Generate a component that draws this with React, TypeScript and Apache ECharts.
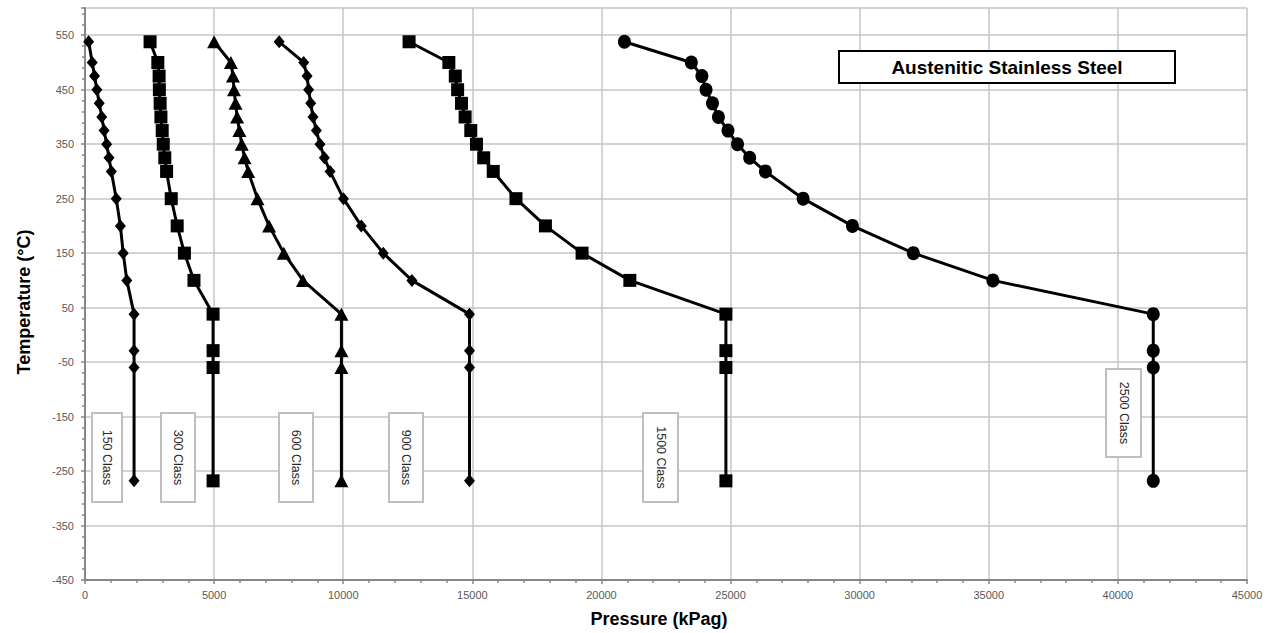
import React, { useEffect, useRef } from "react";
import * as echarts from "echarts";

const temps = [538, 500, 475, 450, 425, 400, 375, 350, 325, 300, 250, 200, 150, 100, 38, -29, -60, -268];

const class150 = [140, 280, 370, 460, 550, 650, 740, 840, 930, 1020, 1210, 1370, 1480, 1620, 1900, 1900, 1900, 1900];
const class300 = [2520, 2820, 2870, 2880, 2910, 2940, 2990, 3030, 3090, 3160, 3340, 3570, 3850, 4220, 4960, 4960, 4960, 4960];
const class600 = [5000, 5650, 5730, 5770, 5830, 5890, 5980, 6070, 6180, 6320, 6680, 7130, 7700, 8440, 9930, 9930, 9930, 9930];
const class900 = [7520, 8470, 8600, 8660, 8740, 8830, 8960, 9100, 9270, 9490, 10010, 10700, 11550, 12660, 14890, 14890, 14890, 14890];
const class1500 = [12550, 14090, 14340, 14430, 14580, 14720, 14940, 15160, 15440, 15810, 16690, 17830, 19250, 21100, 24820, 24820, 24820, 24820];
const class2500 = [20890, 23480, 23890, 24050, 24300, 24530, 24900, 25270, 25740, 26350, 27810, 29720, 32080, 35160, 41370, 41370, 41370, 41370];

const seriesNames = ["150 Class", "300 Class", "600 Class", "900 Class", "1500 Class", "2500 Class"];
const seriesValues = [class150, class300, class600, class900, class1500, class2500];
const seriesSymbols = ["diamond", "rect", "triangle", "diamond", "rect", "circle"];

const title = "Austenitic Stainless Steel";
const xName = "Pressure (kPag)";
const yName = "Temperature (°C)";

const symbolSizes: any = {
  diamond: [11, 13],
  rect: [13, 13],
  triangle: [14, 13],
  circle: [13, 14],
};

// annotation boxes in page pixels: [label, left, top, width, height]
const labelBoxes: [string, number, number, number, number][] = [
  ["150 Class", 92, 413, 30, 89],
  ["300 Class", 161, 413, 34, 89],
  ["600 Class", 279, 413, 34, 89],
  ["900 Class", 389, 413, 34, 89],
  ["1500 Class", 643, 413, 35, 89],
  ["2500 Class", 1106, 369, 35, 88],
];

export default function App() {
  const ref = useRef<HTMLDivElement>(null);
  useEffect(() => {
    if (!ref.current) return;
    const chart = echarts.init(ref.current, null, { renderer: "svg" });
    const axisLineColor = "#868686";
    const gridColor = "#c6c6c6";
    const font = "Liberation Sans, Arial, sans-serif";
    const labelStyle = {
      color: "#595959",
      fontSize: 11,
      fontFamily: font,
      formatter: (v: number) => String(v),
    };

    const graphics: any[] = [];
    labelBoxes.forEach(([txt, l, t, w, h]) => {
      graphics.push({
        type: "rect",
        shape: { x: l, y: t, width: w, height: h },
        style: { fill: "#fff", stroke: "#bfbfbf", lineWidth: 2 },
        z: 5,
      });
      graphics.push({
        type: "text",
        x: l + w / 2,
        y: t + h / 2,
        rotation: -Math.PI / 2,
        style: {
          text: txt,
          fill: "#262626",
          fontSize: 12.5,
          fontFamily: font,
          align: "center",
          verticalAlign: "middle",
        },
        z: 6,
      });
    });
    graphics.push({
      type: "rect",
      shape: { x: 839, y: 51, width: 336, height: 32 },
      style: { fill: "#fff", stroke: "#000", lineWidth: 2 },
      z: 5,
    });
    graphics.push({
      type: "text",
      x: 1007,
      y: 67.5,
      style: {
        text: title,
        fill: "#000",
        fontSize: 19,
        fontWeight: "bold",
        fontFamily: font,
        align: "center",
        verticalAlign: "middle",
      },
      z: 6,
    });

    chart.setOption({
      animation: false,
      backgroundColor: "#fff",
      grid: { left: 85, right: 31, top: 8, bottom: 52, containLabel: false },
      xAxis: {
        type: "value",
        min: 0,
        max: 45000,
        interval: 5000,
        name: xName,
        nameLocation: "middle",
        nameGap: 30,
        nameTextStyle: { color: "#000", fontSize: 18, fontWeight: "bold", fontFamily: font, padding: [0, 14, 0, 0] },
        axisLine: { show: true, onZero: false, lineStyle: { color: axisLineColor, width: 2 } },
        axisTick: { show: true, length: 4, lineStyle: { color: axisLineColor, width: 1.5 } },
        minorTick: { show: true, splitNumber: 5, length: 3, lineStyle: { color: axisLineColor, width: 1.5 } },
        axisLabel: { ...labelStyle, margin: 9 },
        splitLine: { show: true, lineStyle: { color: gridColor, width: 1.5 } },
      },
      yAxis: {
        type: "value",
        min: -450,
        max: 600,
        interval: 100,
        name: yName,
        nameLocation: "middle",
        nameGap: 52,
        nameTextStyle: { color: "#000", fontSize: 18, fontWeight: "bold", fontFamily: font, padding: [0, 16, 0, 0] },
        axisLine: { show: true, onZero: false, lineStyle: { color: axisLineColor, width: 2 } },
        axisTick: { show: true, length: 4, lineStyle: { color: axisLineColor, width: 1.5 } },
        minorTick: { show: true, splitNumber: 5, length: 3, lineStyle: { color: axisLineColor, width: 1.5 } },
        axisLabel: { ...labelStyle, margin: 11, showMaxLabel: false },
        splitLine: { show: true, lineStyle: { color: gridColor, width: 1.5 } },
      },
      graphic: graphics,
      series: seriesNames.map((name, i) => ({
        name,
        type: "line",
        data: seriesValues[i].map((p, j) => [p, temps[j]]),
        symbol: seriesSymbols[i],
        symbolSize: symbolSizes[seriesSymbols[i]],
        showAllSymbol: true,
        lineStyle: { color: "#000", width: 3 },
        itemStyle: { color: "#000", borderWidth: 0 },
        z: 3,
      })),
    });
    return () => chart.dispose();
  }, []);
  return <div ref={ref} style={{ position: "fixed", left: 0, top: 0, width: 1278, height: 633 }} />;
}
